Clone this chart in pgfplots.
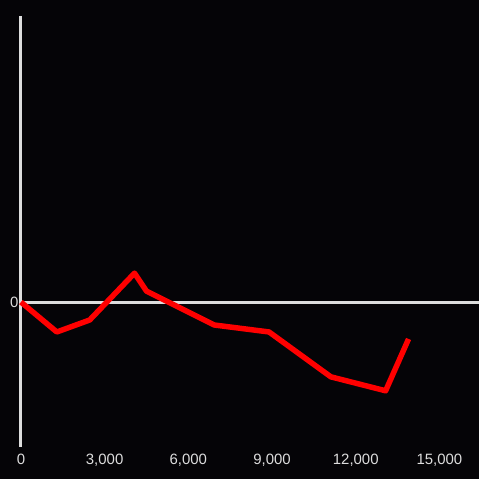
\documentclass[border=0pt]{standalone}
\usepackage{pgfplots}
\pgfplotsset{compat=1.18}
\usepackage{fontspec}
\setmainfont{Liberation Sans}
\definecolor{bg}{HTML}{050407}
\definecolor{ax}{HTML}{DDDDDD}
\definecolor{ln}{HTML}{FF0000}
\begin{document}
\begin{tikzpicture}
\fill[bg] (-21pt,-32pt) rectangle (459pt,448pt);
\begin{axis}[
  scale only axis,
  width=459pt, height=432pt,
  at={(0,0)}, anchor=south west,
  xmin=0, xmax=16400,
  ymin=-145, ymax=287,
  axis x line=bottom,
  axis y line=left,
  x axis line style={draw=none,-},
  y axis line style={ax,line width=3pt,-},
  xtick={0,3000,6000,9000,12000,15000},
  ytick={0},
  scaled ticks=false,
  major tick length=0pt,
  tick style={draw=none},
  /pgf/number format/assume math mode=true,
  /pgf/number format/1000 sep={,},
  xticklabel style={text=ax,font=\fontsize{15}{17}\selectfont, yshift=-4pt},
  yticklabel style={text=ax,font=\fontsize{15}{17}\selectfont, xshift=1pt},
  clip=false,
]
\addplot[ax,line width=3pt] coordinates {(0,0) (16400,0)};
\addplot[ln,line width=5.5pt,line join=round] coordinates {
(0,0) (1286,-30) (2464,-18) (4071,29) (4500,11) (6929,-23) (8893,-30) (11107,-75) (13071,-89) (13893,-37)
};
\end{axis}
\end{tikzpicture}
\end{document}
